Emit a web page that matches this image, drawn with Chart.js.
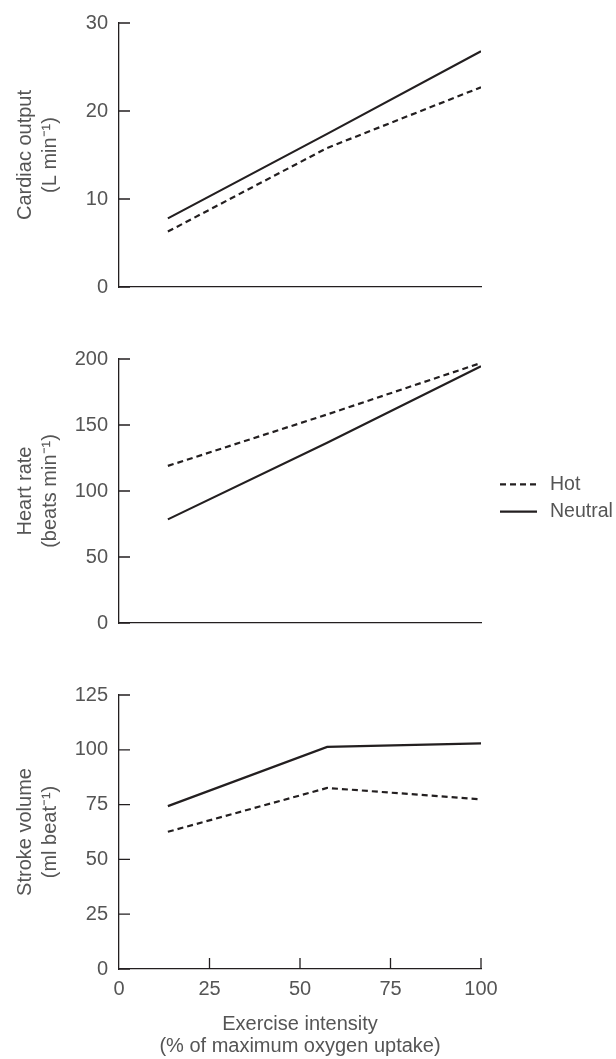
<!DOCTYPE html>
<html>
<head>
<meta charset="utf-8">
<script src="https://cdn.jsdelivr.net/npm/chart.js@4.4.1/dist/chart.umd.min.js"></script>
<style>
    html, body { margin: 0; padding: 0; background: #fff; }
    #wrap { position: relative; width: 616px; height: 1059px; }
    canvas { position: absolute; left: 0; }
</style>
</head>
<body>
<div id="wrap">
    <canvas id="cardiacChart" width="616" height="310" style="top:0"></canvas>
    <canvas id="heartChart" width="616" height="310" style="top:336px"></canvas>
    <canvas id="strokeChart" width="616" height="387" style="top:672px"></canvas>
</div>
<script>
// exercise intensity (% of max oxygen uptake)
const intensity = [13.5, 57.5, 100];
const xTicks = [0, 25, 50, 75, 100];

const cardiacHot = [6.3, 15.8, 22.7];
const cardiacNeutral = [7.8, 17.4, 26.8];
const cardiacTicks = [0, 10, 20, 30];

const heartHot = [119, 158, 197];
const heartNeutral = [78.5, 136.5, 194.5];
const heartTicks = [0, 50, 100, 150, 200];

const strokeHot = [62.6, 82.6, 77.4];
const strokeNeutral = [74.3, 101.3, 102.9];
const strokeTicks = [0, 25, 50, 75, 100, 125];

const seriesNames = ['Hot', 'Neutral'];

const ink = '#231f20';
const textColor = '#555555';
const fontFamily = '"Liberation Sans", Arial, Helvetica, sans-serif';

// tick marks point into the plot area
const innerTicks = {
    id: 'innerTicks',
    beforeDatasetsDraw(chart, args, opts) {
        const { ctx, chartArea } = chart;
        const xs = chart.scales.x;
        const ys = chart.scales.y;
        ctx.save();
        ctx.strokeStyle = ink;
        ctx.lineWidth = 1.3;
        ctx.beginPath();
        ys.ticks.forEach(t => {
            const py = ys.getPixelForValue(t.value);
            ctx.moveTo(chartArea.left, py);
            ctx.lineTo(chartArea.left + 11, py);
        });
        if (opts.showX) {
            xs.ticks.forEach(t => {
                if (t.value === 0) return;
                const px = xs.getPixelForValue(t.value);
                ctx.moveTo(px, chartArea.bottom);
                ctx.lineTo(px, chartArea.bottom - 11);
            });
        }
        ctx.stroke();
        ctx.restore();
    }
};

// legend drawn in the right margin
const sideLegend = {
    id: 'sideLegend',
    afterDraw(chart, args, opts) {
        if (!opts.show) return;
        const { ctx } = chart;
        chart.data.datasets.forEach((ds, i) => {
            const y = opts.y + i * opts.spacing;
            ctx.save();
            ctx.strokeStyle = ds.borderColor;
            ctx.lineWidth = ds.borderWidth;
            ctx.setLineDash(ds.borderDash || []);
            ctx.beginPath();
            ctx.moveTo(opts.x, y);
            ctx.lineTo(opts.x + 37, y);
            ctx.stroke();
            ctx.setLineDash([]);
            ctx.fillStyle = textColor;
            ctx.font = '19.5px ' + fontFamily;
            ctx.textBaseline = 'middle';
            ctx.fillText(ds.label, opts.x + 50, y);
            ctx.restore();
        });
    }
};

function makePanel(id, hot, neutral, yTicks, yTitle, top, axisHeight, isBottom, legend) {
    return new Chart(document.getElementById(id), {
        type: 'line',
        data: {
            datasets: [{
                label: seriesNames[0],
                data: intensity.map((x, i) => ({ x: x, y: hot[i] })),
                borderColor: ink,
                borderWidth: 2.2,
                borderDash: [6, 4],
                pointRadius: 0,
                tension: 0
            }, {
                label: seriesNames[1],
                data: intensity.map((x, i) => ({ x: x, y: neutral[i] })),
                borderColor: ink,
                borderWidth: 2.2,
                pointRadius: 0,
                tension: 0
            }]
        },
        options: {
            responsive: false,
            animation: false,
            layout: { padding: { top: top, right: 135, left: 0, bottom: 0 } },
            plugins: {
                legend: { display: false },
                tooltip: { enabled: false },
                innerTicks: { showX: isBottom },
                sideLegend: legend || { show: false }
            },
            scales: {
                x: {
                    type: 'linear',
                    min: 0,
                    max: 100,
                    afterBuildTicks: s => { s.ticks = xTicks.map(v => ({ value: v })); },
                    afterFit: s => { s.height = axisHeight; },
                    grid: { display: false, drawTicks: false },
                    border: { display: true, color: ink, width: 1.3 },
                    ticks: {
                        display: isBottom,
                        padding: 8,
                        color: textColor,
                        font: { family: fontFamily, size: 20 }
                    },
                    title: {
                        display: isBottom,
                        text: ['Exercise intensity', '(% of maximum oxygen uptake)'],
                        color: textColor,
                        font: { family: fontFamily, size: 20, lineHeight: 1.1 },
                        padding: { top: 4, bottom: 2 }
                    }
                },
                y: {
                    type: 'linear',
                    min: yTicks[0],
                    max: yTicks[yTicks.length - 1],
                    afterBuildTicks: s => { s.ticks = yTicks.map(v => ({ value: v })); },
                    afterFit: s => { s.width = 119; },
                    grid: { display: false, drawTicks: false },
                    border: { display: true, color: ink, width: 1.3 },
                    ticks: {
                        padding: 11,
                        color: textColor,
                        font: { family: fontFamily, size: 20 }
                    },
                    title: {
                        display: true,
                        text: yTitle,
                        color: textColor,
                        font: { family: fontFamily, size: 20, lineHeight: 1.25 },
                        padding: { top: 13, bottom: 0 }
                    }
                }
            }
        },
        plugins: [innerTicks, sideLegend]
    });
}

makePanel('cardiacChart', cardiacHot, cardiacNeutral, cardiacTicks,
    ['Cardiac output', '(L min\u207B\u00B9)'], 15.7, 14, false);

makePanel('heartChart', heartHot, heartNeutral, heartTicks,
    ['Heart rate', '(beats min\u207B\u00B9)'], 16.3, 13.7, false,
    { show: true, x: 500, y: 148.3, spacing: 27.4 });

makePanel('strokeChart', strokeHot, strokeNeutral, strokeTicks,
    ['Stroke volume', '(ml beat\u207B\u00B9)'], 16.3, 90, true);
</script>
</body>
</html>
